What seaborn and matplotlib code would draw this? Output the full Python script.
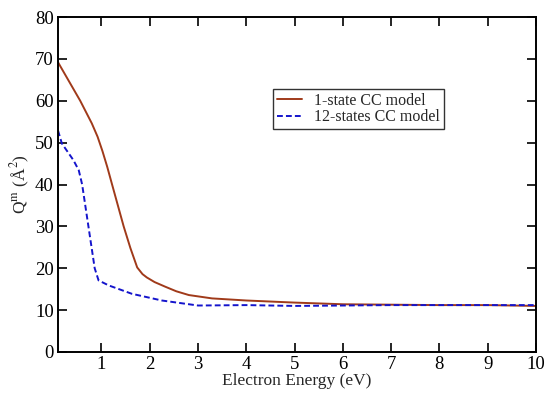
import matplotlib
matplotlib.use("Agg")
import matplotlib.pyplot as plt
import seaborn as sns
import pandas as pd

# ---- data ----
x_one_state = [0.1, 0.3, 0.56, 0.8, 0.92, 1.02, 1.12, 1.22, 1.34, 1.46, 1.6, 1.74, 1.85, 1.94,
               2.1, 2.32, 2.55, 2.81, 3.29, 4, 5, 6, 7, 8, 9, 10]
y_one_state = [69.2, 65.2, 60.0, 54.6, 51.4, 48.0, 44.2, 40.0, 35.0, 30.0, 24.8, 20.2, 18.6, 17.8,
               16.7, 15.6, 14.5, 13.6, 12.8, 12.3, 11.8, 11.4, 11.3, 11.2, 11.2, 11.0]

x_twelve_states = [0.1, 0.18, 0.3, 0.42, 0.53, 0.6, 0.73, 0.86, 0.94, 1.15, 1.63, 2.25,
                   3.0, 4, 5, 6, 7, 8, 9, 10]
y_twelve_states = [52.9, 49.8, 47.8, 45.8, 43.4, 40.0, 30.0, 20.0, 17.1, 15.9, 13.9, 12.3,
                   11.1, 11.2, 11.0, 11.1, 11.2, 11.2, 11.2, 11.2]

series_labels = ["1-state CC model", "12-states CC model"]
x_ticks = [1, 2, 3, 4, 5, 6, 7, 8, 9, 10]
y_ticks = [0, 10, 20, 30, 40, 50, 60, 70, 80]

df = pd.concat([
    pd.DataFrame({"E": x_one_state, "Q": y_one_state, "model": series_labels[0]}),
    pd.DataFrame({"E": x_twelve_states, "Q": y_twelve_states, "model": series_labels[1]}),
])

sns.set_theme(style="ticks")
plt.rcParams["font.family"] = ["Liberation Serif", "DejaVu Serif"]
plt.rcParams["mathtext.fontset"] = "stix"

fig = plt.figure(figsize=(5.5, 3.96), dpi=100)
ax = fig.add_axes([58 / 550, (396 - 352) / 396, (536 - 58) / 550, (352 - 17) / 396])

palette = {series_labels[0]: "#a03a1a", series_labels[1]: "#1414cc"}
sns.lineplot(data=df, x="E", y="Q", hue="model", style="model",
             palette=palette, dashes={series_labels[0]: "", series_labels[1]: (3.0, 1.6)},
             linewidth=1.4, ax=ax, sort=False, estimator=None)

ax.set_xlim(0.1, 10)
ax.set_ylim(0, 80)
ax.set_xticks(x_ticks)
ax.set_yticks(y_ticks)
ax.tick_params(direction="in", length=6.5, width=1.2, top=True, right=True,
               labelsize=13.5, colors="black", pad=3)
for s in ax.spines.values():
    s.set_linewidth(1.4)
    s.set_color("black")
    s.set_visible(True)

ax.set_xlabel("Electron Energy (eV)", fontsize=12.5, labelpad=0)
ax.set_ylabel(r"Q$^{\rm m}$ (Å$^{2}$)", fontsize=12.5, labelpad=2)

leg = ax.legend(loc="upper left", bbox_to_anchor=(0.4495, 0.786), borderaxespad=0,
                fontsize=11.5, frameon=True, fancybox=False, edgecolor="black",
                handlelength=1.6, handletextpad=0.75, borderpad=0.25, labelspacing=0.05)
leg.get_frame().set_linewidth(1.0)
leg.set_title(None)

fig.savefig("out.png", dpi=100)
